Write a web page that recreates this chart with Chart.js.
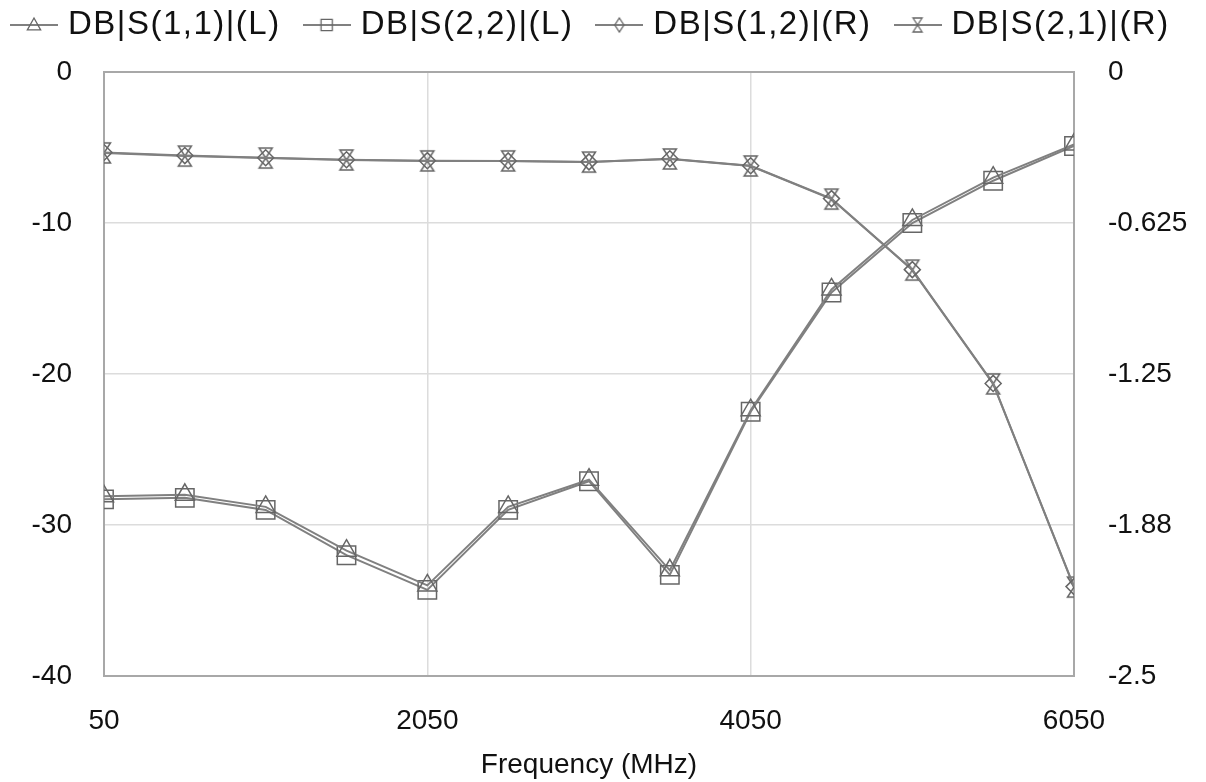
<!DOCTYPE html>
<html>
<head>
<meta charset="utf-8">
<script src="https://cdn.jsdelivr.net/npm/chart.js@4.4.1/dist/chart.umd.min.js"></script>
<style>
  html, body { margin: 0; padding: 0; background: #fff; }
  #wrap { width: 1206px; height: 782px; }
</style>
</head>
<body>
<div id="wrap"><canvas id="chart" width="1206" height="782"></canvas></div>
<script>
// ---- data ----
const freqs = [50, 550, 1050, 1550, 2050, 2550, 3050, 3550, 4050, 4550, 5050, 5550, 6050];
const s11 = [-28.1, -28.0, -28.8, -31.7, -34.0, -28.8, -27.0, -33.0, -22.4, -14.4, -9.8, -7.0, -4.8];
const s22 = [-28.3, -28.2, -29.0, -32.0, -34.3, -29.0, -27.1, -33.3, -22.5, -14.6, -10.0, -7.2, -4.9];
const s12 = [-0.333, -0.346, -0.355, -0.363, -0.367, -0.368, -0.372, -0.359, -0.388, -0.524, -0.818, -1.289, -2.130];
const s21 = [-0.335, -0.348, -0.356, -0.364, -0.368, -0.368, -0.373, -0.360, -0.389, -0.526, -0.820, -1.291, -2.132];

const seriesLabels = ["DB|S(1,1)|(L)", "DB|S(2,2)|(L)", "DB|S(1,2)|(R)", "DB|S(2,1)|(R)"];
const xTicks = [50, 2050, 4050, 6050];
const leftTicks = [0, -10, -20, -30, -40];
const rightTicks = [0, -0.625, -1.25, -1.875, -2.5];
const rightTickLabels = ["0", "-0.625", "-1.25", "-1.88", "-2.5"];

const LINE = "#808080";
const MARK = "#666666";
const TEXT = "#111111";
const FONT = '"Liberation Sans", Arial, sans-serif';

// ---- marker shapes ----
function drawShape(ctx, kind, cx, cy, s) {
  ctx.beginPath();
  if (kind === "triangle") {
    ctx.moveTo(cx, cy - s);
    ctx.lineTo(cx + s * 0.95, cy + s * 0.7);
    ctx.lineTo(cx - s * 0.95, cy + s * 0.7);
  } else if (kind === "square") {
    ctx.rect(cx - s * 0.8, cy - s * 0.8, s * 1.6, s * 1.6);
  } else if (kind === "diamond") {
    ctx.moveTo(cx, cy - s);
    ctx.lineTo(cx + s * 0.65, cy);
    ctx.lineTo(cx, cy + s);
    ctx.lineTo(cx - s * 0.65, cy);
  } else {
    ctx.moveTo(cx - s * 0.65, cy - s);
    ctx.lineTo(cx + s * 0.65, cy - s);
    ctx.lineTo(cx - s * 0.65, cy + s);
    ctx.lineTo(cx + s * 0.65, cy + s);
  }
  ctx.closePath();
  ctx.stroke();
}

function hourglassMarker() {
  const c = document.createElement("canvas");
  c.width = 20; c.height = 24;
  const ctx = c.getContext("2d");
  ctx.strokeStyle = MARK;
  ctx.lineWidth = 1.5;
  drawShape(ctx, "hourglass", 10, 12, 10);
  return c;
}

function legendIcon(kind) {
  const c = document.createElement("canvas");
  c.width = 48; c.height = 20;
  const ctx = c.getContext("2d");
  ctx.strokeStyle = LINE;
  ctx.lineWidth = 2;
  ctx.beginPath(); ctx.moveTo(0, 10); ctx.lineTo(48, 10); ctx.stroke();
  ctx.strokeStyle = MARK;
  ctx.lineWidth = 1.3;
  drawShape(ctx, kind, 24, 10, 7);
  return c;
}

const legendIcons = ["triangle", "square", "diamond", "hourglass"].map(legendIcon);

function pts(vals) {
  return freqs.map((f, i) => ({ x: f, y: vals[i] }));
}

function series(label, vals, axis, style, radius) {
  return {
    label: label,
    data: pts(vals),
    yAxisID: axis,
    borderColor: LINE,
    borderWidth: 2,
    tension: 0,
    pointStyle: style,
    pointRadius: radius,
    pointHoverRadius: radius,
    pointBorderColor: MARK,
    pointBorderWidth: 1.5,
    pointBackgroundColor: "rgba(0,0,0,0)"
  };
}

// frame round the plot area
const frame = {
  id: "frame",
  beforeDatasetsDraw(chart) {
    const a = chart.chartArea;
    const ctx = chart.ctx;
    ctx.save();
    ctx.strokeStyle = "#a8a8a8";
    ctx.lineWidth = 2;
    ctx.strokeRect(a.left, a.top, a.right - a.left, a.bottom - a.top);
    ctx.restore();
  }
};

// legend row along the top: icon + text
const legendRow = {
  id: "legendRow",
  afterDraw(chart) {
    const ctx = chart.ctx;
    ctx.save();
    ctx.font = "33px " + FONT;
    ctx.letterSpacing = "1.5px";
    ctx.fillStyle = TEXT;
    ctx.textBaseline = "middle";
    let x = 10;
    const y = 25;
    chart.data.datasets.forEach((ds, i) => {
      ctx.drawImage(legendIcons[i], x, y - 10);
      x += 58;
      ctx.fillText(ds.label, x, y);
      x += ctx.measureText(ds.label).width + 22;
    });
    ctx.restore();
  }
};

new Chart(document.getElementById("chart"), {
  type: "line",
  data: {
    datasets: [
      series(seriesLabels[0], s11, "yL", "triangle", 11),
      series(seriesLabels[1], s22, "yL", "rect", 13),
      series(seriesLabels[2], s12, "yR", "rectRot", 8),
      series(seriesLabels[3], s21, "yR", hourglassMarker(), 10)
    ]
  },
  options: {
    responsive: false,
    animation: false,
    layout: { padding: { top: 72, left: 0, right: 0, bottom: 0 } },
    plugins: {
      legend: { display: false },
      tooltip: { enabled: false }
    },
    scales: {
      x: {
        type: "linear",
        min: 50,
        max: 6050,
        afterBuildTicks: s => { s.ticks = xTicks.map(v => ({ value: v })); },
        afterFit: s => { s.height = 106; },
        ticks: {
          color: TEXT,
          font: { family: FONT, size: 28 },
          padding: 28,
          maxRotation: 0,
          callback: v => String(v)
        },
        grid: { color: "#dcdcdc", lineWidth: 1.5, drawTicks: false },
        border: { display: false },
        title: { display: true, text: "Frequency (MHz)", color: TEXT, font: { family: FONT, size: 28 }, padding: { top: 0, bottom: 0 } }
      },
      yL: {
        position: "left",
        min: -40,
        max: 0,
        afterBuildTicks: s => { s.ticks = leftTicks.map(v => ({ value: v })); },
        afterFit: s => { s.width = 104; },
        ticks: { color: TEXT, font: { family: FONT, size: 28 }, padding: 32 },
        grid: { color: "#dcdcdc", lineWidth: 1.5, drawTicks: false },
        border: { display: false }
      },
      yR: {
        position: "right",
        min: -2.5,
        max: 0,
        afterBuildTicks: s => { s.ticks = rightTicks.map(v => ({ value: v })); },
        afterFit: s => { s.width = 132; },
        ticks: {
          color: TEXT,
          font: { family: FONT, size: 28 },
          padding: 34,
          callback: v => rightTickLabels[rightTicks.indexOf(v)]
        },
        grid: { display: false, drawTicks: false },
        border: { display: false }
      }
    }
  },
  plugins: [frame, legendRow]
});
</script>
</body>
</html>
